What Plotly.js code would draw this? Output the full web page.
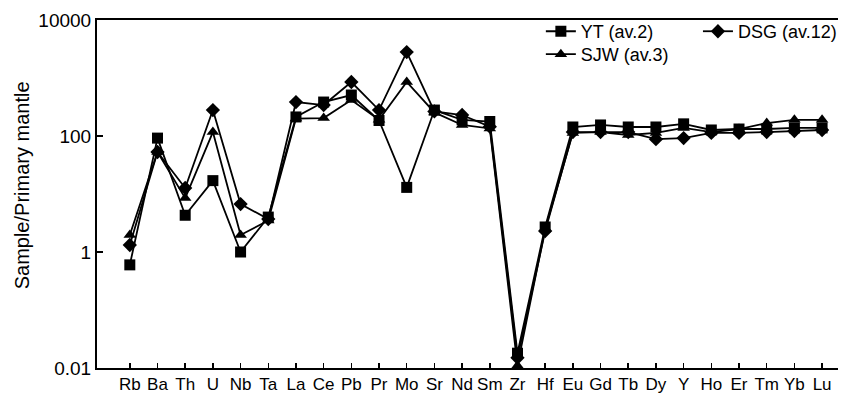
<!DOCTYPE html>
<html>
<head>
<meta charset="utf-8">
<script src="https://cdn.plot.ly/plotly-3.0.1.min.js"></script>
<style>html,body{margin:0;padding:0;background:#fff;}#chart{width:842px;height:397px;}</style>
</head>
<body>
<div id="chart"></div>
<script>
const elements = ["Rb","Ba","Th","U","Nb","Ta","La","Ce","Pb","Pr","Mo","Sr","Nd","Sm","Zr","Hf","Eu","Gd","Tb","Dy","Y","Ho","Er","Tm","Yb","Lu"];
const yt  = [0.6, 92, 4.3, 17, 1.0, 4.0, 213, 385, 509, 185, 13, 280, 190, 178, 0.018, 2.7, 143, 155, 143, 143, 162, 127, 132, 132, 138, 138];
const dsg = [1.32, 53, 12.7, 280, 6.7, 3.7, 385, 342, 853, 280, 2800, 265, 230, 145, 0.015, 2.3, 117, 117, 117, 88, 92, 113, 113, 117, 122, 127];
const sjw = [1.96, 53, 8.5, 117, 1.96, 3.5, 200, 204, 417, 190, 853, 255, 155, 135, 0.011, 2.5, 113, 117, 104, 113, 138, 117, 132, 167, 190, 190];
const yTickVals = [0.01, 1, 100, 10000];
const yTickText = ["0.01", "1", "100", "10000"];
const yTitle = "Sample/Primary mantle";

const FONT = "Liberation Sans, Arial, sans-serif";
const lineStyle = {color: "#000", width: 1.8};
const legFont = {family: FONT, size: 18, color: "#000"};

const traces = [
  {x: elements, y: yt, name: "YT (av.2)", mode: "lines+markers", type: "scatter",
   line: lineStyle, marker: {symbol: "square", size: 11, color: "#000"}, legend: "legend"},
  {x: elements, y: dsg, name: "DSG (av.12)", mode: "lines+markers", type: "scatter",
   line: lineStyle, marker: {symbol: "diamond", size: 11, color: "#000"}, legend: "legend2"},
  {x: elements, y: sjw, name: "SJW (av.3)", mode: "lines+markers", type: "scatter",
   line: lineStyle, marker: {symbol: "triangle-up", size: 11, color: "#000"}, legend: "legend3"}
];

const layout = {
  width: 842, height: 397,
  margin: {l: 97, r: 0, t: 20, b: 29, pad: 0},
  paper_bgcolor: "#fff", plot_bgcolor: "#fff",
  font: {family: FONT, size: 18, color: "#000"},
  showlegend: true,
  legend:  {x: 0.599, y: 1.02, xanchor: "left", yanchor: "top", bgcolor: "rgba(0,0,0,0)", font: legFont, itemwidth: 30},
  legend2: {x: 0.811, y: 1.02, xanchor: "left", yanchor: "top", bgcolor: "rgba(0,0,0,0)", font: legFont, itemwidth: 30},
  legend3: {x: 0.599, y: 0.954, xanchor: "left", yanchor: "top", bgcolor: "rgba(0,0,0,0)", font: legFont, itemwidth: 30},
  xaxis: {
    type: "category", range: [-1.185, 25.575],
    showline: true, linecolor: "#000", linewidth: 2, mirror: true,
    ticks: "inside", ticklen: 5, tickwidth: 1.5, tickcolor: "#000",
    showgrid: false, zeroline: false,
    tickfont: {family: FONT, size: 17, color: "#000"}
  },
  yaxis: {
    type: "log", range: [-2, 4],
    tickvals: yTickVals, ticktext: yTickText,
    showline: true, linecolor: "#000", linewidth: 2, mirror: false,
    ticks: "inside", ticklen: 6, tickwidth: 1.5, tickcolor: "#000",
    showgrid: false, zeroline: false,
    tickfont: {family: FONT, size: 19, color: "#000"}
  },
  annotations: [{
    text: yTitle, textangle: -90, xref: "paper", yref: "paper",
    x: -0.1007, y: 0.526, xanchor: "center", yanchor: "middle", showarrow: false,
    font: {family: FONT, size: 20, color: "#000"}
  }]
};

Plotly.newPlot("chart", traces, layout, {staticPlot: true, displayModeBar: false});
</script>
</body>
</html>
